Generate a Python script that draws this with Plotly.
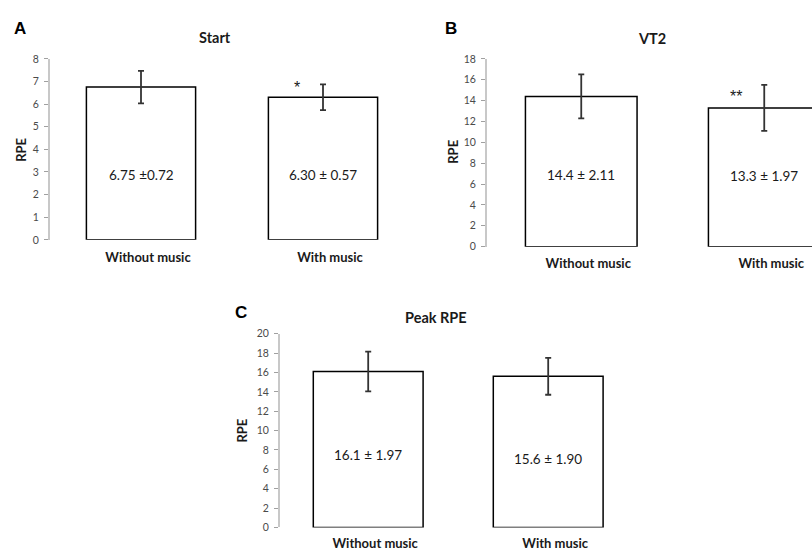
import plotly.graph_objects as go

categories = ["Without music", "With music"]

start_means = [6.75, 6.30]
start_err = [0.72, 0.57]
start_labels = ["6.75 ±0.72", "6.30 ± 0.57"]

vt2_means = [14.4, 13.3]
vt2_err = [2.11, 2.2]
vt2_labels = ["14.4 ± 2.11", "13.3 ± 1.97"]

peak_means = [16.1, 15.6]
peak_err = [2.05, 1.90]
peak_labels = ["16.1 ± 1.97", "15.6 ± 1.90"]

start_ticks = list(range(0, 9, 1))
vt2_ticks = list(range(0, 19, 2))
peak_ticks = list(range(0, 21, 2))

W, H = 812, 553
FONT = "Lato"
TXT = "#1a1a1a"

def px(x):
    return x / W

def py(y):
    return 1 - y / H

fig = go.Figure()

panels = [
    # (means, err, labels, ticks, xaxis, yaxis, width, label_y)
    (start_means, start_err, start_labels, start_ticks, "x", "y", 0.60, [2.85, 2.85]),
    (vt2_means, vt2_err, vt2_labels, vt2_ticks, "x2", "y2", 0.61, [6.9, 6.8]),
    (peak_means, peak_err, peak_labels, peak_ticks, "x3", "y3", 0.61, [7.5, 7.1]),
]

for means, err, labels, ticks, xa, ya, w, ly in panels:
    fig.add_trace(go.Bar(
        x=categories, y=means, xaxis=xa, yaxis=ya, width=w,
        marker=dict(color="white", line=dict(color="black", width=1.5)),
        error_y=dict(type="data", array=err, visible=True, color="#333333",
                     thickness=1.8, width=3),
        showlegend=False, hoverinfo="skip",
    ))
    for c, t, yy in zip(categories, labels, ly):
        fig.add_annotation(x=c, y=yy, xref=xa, yref=ya, text=t, showarrow=False,
                           font=dict(family=FONT, size=13.5, color=TXT))

axis_common = dict(showgrid=False, zeroline=False)
yaxis_style = dict(showline=True, linecolor="#c8c8c8", linewidth=2, ticks="outside",
                   ticklen=4, tickcolor="#a0a0a0", tickwidth=1, ticklabelstandoff=3,
                   tickfont=dict(family=FONT, size=10.5, color="#4a4a4a"), **axis_common)
xaxis_style = dict(showline=False, ticks="", ticklabelshift=7,
                   tickfont=dict(family=FONT, size=13, color=TXT, weight="bold"),
                   **axis_common)

fig.update_layout(
    width=W, height=H, margin=dict(l=0, r=0, t=0, b=0),
    paper_bgcolor="white", plot_bgcolor="white",
    xaxis=dict(domain=[px(50), px(414)], range=[-0.5, 1.5], anchor="y",
               ticklabelstandoff=8, **xaxis_style),
    yaxis=dict(domain=[py(239), py(54)], range=[0, 8], tickvals=start_ticks, anchor="x",
               **yaxis_style),
    xaxis2=dict(domain=[px(487), 1.0], range=[-0.515, -0.515 + 325 / 183], anchor="y2",
                ticklabelstandoff=7, **xaxis_style),
    yaxis2=dict(domain=[py(246), py(54)], range=[0, 18], tickvals=vt2_ticks, anchor="x2",
                **yaxis_style),
    xaxis3=dict(domain=[px(280), px(640)], range=[-0.49, 1.51], anchor="y3",
                ticklabelstandoff=7, **xaxis_style),
    yaxis3=dict(domain=[py(533), py(335)], range=[0, 20], tickvals=peak_ticks, anchor="x3",
                **yaxis_style),
)

def paper_text(text, x, y, size, family=FONT, color=TXT, angle=0):
    fig.add_annotation(x=px(x), y=py(y), xref="paper", yref="paper", text=text,
                       xanchor="center", yanchor="middle", textangle=angle,
                       showarrow=False, font=dict(family=family, size=size, color=color))

# titles
for text, x, y in [("Start", 215, 32), ("VT2", 652, 33), ("Peak RPE", 436, 318)]:
    paper_text(f"<b>{text}</b>", x, y, 14.5)
# panel letters
for text, x, y in [("A", 20, 23), ("B", 451, 23), ("C", 241, 313)]:
    paper_text(f"<b>{text}</b>", x, y, 17, family="Arial", color="black")
# y titles
for x, y in [(21, 147), (453, 149), (242, 434)]:
    paper_text("<b>RPE</b>", x, y, 13, angle=-90)
# significance marks
fig.add_annotation(x=categories[1], y=6.75, xref="x", yref="y", xshift=-26, text="*",
                   showarrow=False, font=dict(family="Arial", size=16, color=TXT))
fig.add_annotation(x=categories[1], y=14.4, xref="x2", yref="y2", xshift=-28, text="**",
                   showarrow=False, font=dict(family="Arial", size=16, color=TXT))

fig.write_html("out.html", config={"displayModeBar": False},
               post_script="document.body.style.margin='0';document.body.style.overflow='hidden';")
